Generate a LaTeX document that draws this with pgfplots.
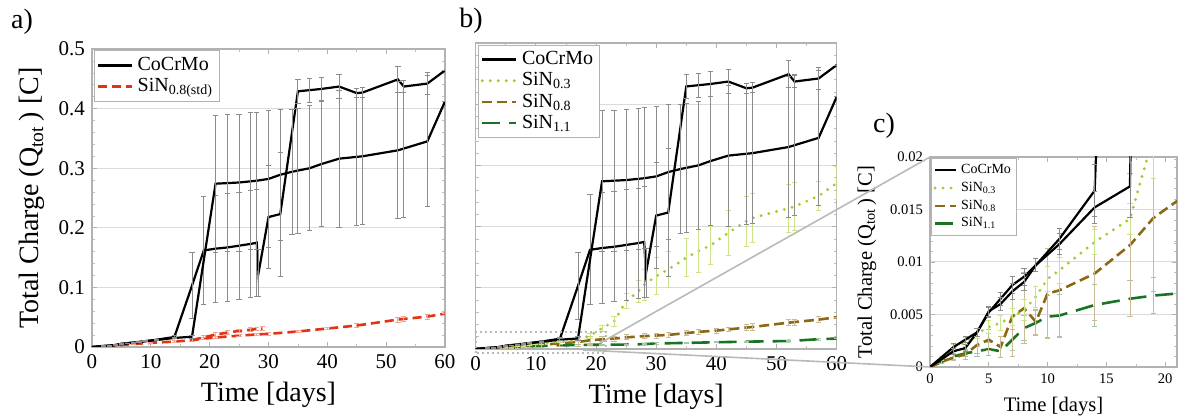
\documentclass[border=0pt]{standalone}
\usepackage{pgfplots}
\pgfplotsset{compat=1.18}
\usepackage{pgfplotstable}
\usepackage{fontspec}
\setmainfont{Liberation Serif}

\definecolor{sin03}{RGB}{160,205,40}
\definecolor{sin08}{RGB}{139,105,20}
\definecolor{sin11}{RGB}{25,115,35}
\definecolor{redc}{RGB}{230,50,20}

% CoCrMo, two runs
\pgfplotstableread{
x y e
0 0 0
2 0.0019 0.0003
3 0.0026 0.0003
4 0.0033 0.0004
5 0.0052 0.0005
6 0.0065 0.0006
7 0.0078 0.0008
8 0.0086 0.0008
9 0.0097 0.0006
11 0.0122 0.001
14 0.0168 0.0025
17 0.103 0.055
19 0.162 0.09
21 0.165 0.09
23 0.167 0.09
25 0.170 0.09
27 0.173 0.09
28 0.175 0.09
28.3 0.124 0.04
30 0.218 0.086
32 0.223 0.104
35 0.429 0.02
37 0.431 0.02
39 0.433 0.02
42 0.437 0.02
45 0.426 0.008
46 0.427 0.008
52 0.449 0.022
53 0.437 0.01
57 0.442 0.018
60 0.464 0
}\cocrA
\pgfplotstableread{
x y e
0 0 0
2 0.0015 0.0003
3 0.0018 0.0003
4 0.0033 0.0004
5 0.0053 0.0005
6 0.0060 0.0006
7 0.0072 0.0008
8 0.0081 0.0008
9 0.0097 0.0006
11 0.0117 0.001
14 0.0152 0.0015
17 0.0172 0.003
21 0.274 0.115
23 0.275 0.115
25 0.276 0.115
27 0.278 0.115
28 0.279 0.115
30 0.282 0.115
32 0.289 0.11
34 0.294 0.105
35 0.296 0.105
37 0.300 0.105
39 0.307 0.105
42 0.316 0.115
45 0.319 0.115
46 0.320 0.115
52 0.330 0.115
53 0.333 0.115
57 0.345 0.11
60 0.412 0
}\cocrB
\pgfplotstableread{
x y e
0 0 0
1 0.0008 0.0002
2 0.0018 0.0003
3 0.0024 0.0004
4 0.0032 0.0005
5 0.0038 0.0006
6 0.0042 0.0007
7 0.0048 0.0008
8 0.0054 0.001
9 0.0067 0.001
10 0.0084 0.0012
11 0.0092 0.0012
14 0.0119 0.0012
17 0.0141 0.0015
19 0.022 0.004
21 0.034 0.005
23 0.045 0.008
25 0.078 0.012
27 0.094 0.018
28 0.105 0.025
30 0.119 0.03
32 0.130 0.03
35 0.149 0.031
37 0.160 0.035
39 0.169 0.031
42 0.190 0.037
45 0.209 0.041
46 0.214 0.04
52 0.230 0.039
53 0.233 0.039
57 0.250 0.024
60 0.271 0.027
}\sinA
\pgfplotstableread{
x y e
0 0 0
1 0.0005 0.0002
2 0.0009 0.0003
3 0.0012 0.0005
4 0.0021 0.0008
5 0.0026 0.001
6 0.0019 0.001
7 0.0048 0.0038
8 0.0056 0.0034
9 0.0043 0.0012
10 0.0070 0.0043
11 0.0073 0.0045
14 0.0089 0.0045
17 0.0116 0.0068
19 0.0142 0.007
21 0.0158 0.004
23 0.017 0.004
25 0.019 0.004
28 0.021 0.004
30 0.022 0.004
32 0.023 0.004
35 0.026 0.004
37 0.028 0.004
40 0.030 0.004
42 0.032 0.004
45 0.035 0.005
46 0.036 0.005
52 0.043 0.005
53 0.044 0.005
57 0.048 0.005
60 0.052 0
}\sinB
\pgfplotstableread{
x y e
0 0 0
1 0.0005 0.0002
2 0.0010 0.0003
3 0.0013 0.0003
4 0.0015 0.0005
5 0.0017 0.0006
6 0.0015 0.0006
7 0.0026 0.001
8 0.0037 0.0012
9 0.0042 0.0012
10 0.0048 0.002
11 0.0049 0.002
14 0.0059 0.002
17 0.0065 0.0017
19 0.0068 0.0017
21 0.0070 0.001
25 0.0072 0.001
28 0.0080 0.001
30 0.0090 0.001
35 0.0100 0.001
40 0.0110 0.001
45 0.0120 0.001
52 0.0130 0.001
57 0.0160 0.0015
60 0.0170 0
}\sinC
% SiN0.8(std), panel a
\pgfplotstableread{
x y e
0 0 0
3 0.0015 0.0003
7 0.005 0.001
10 0.007 0.001
14 0.009 0.002
17 0.0115 0.002
19 0.014 0.002
21 0.016 0.002
25 0.019 0.002
28 0.021 0.002
30 0.022 0.002
35 0.026 0.002
40 0.031 0.002
45 0.036 0.003
52 0.046 0.004
53 0.047 0.004
57 0.051 0.004
60 0.056 0
}\redA
\pgfplotstableread{
x y e
17 0.012 0.002
19 0.016 0.003
21 0.021 0.003
23 0.024 0.003
25 0.027 0.003
27 0.029 0.003
28 0.030 0.003
29 0.031 0.003
}\redB

\pgfplotsset{
  panel/.style={scale only axis, axis line style={gray!60, line width=0.6pt},
    major tick style={gray!60, line width=0.4pt}, minor tick style={gray!50, line width=0.3pt},
    major tick length=2.5pt, minor tick length=1.5pt,
    ymajorgrids, grid style={gray!28, line width=0.5pt},
    tick label style={font=\fontsize{10.5}{12}\selectfont},
    label style={font=\fontsize{14}{16}\selectfont},
    xticklabel={\pgfmathprintnumber[assume math mode=true]{\tick}},
    yticklabel={\pgfmathprintnumber[assume math mode=true, fixed, precision=3]{\tick}},
    scaled y ticks=false, clip mode=individual, legend cell align=left,
    legend style={draw=gray!60, at={(0.006,0.995)}, anchor=north west,
      inner sep=1.2pt, row sep=-1.5pt, font=\fontsize{10}{12}\selectfont}},
  cocr/.style={black, line width=1.1pt, solid},
  s03/.style={sin03, line width=1.6pt, line cap=round, dash pattern=on 0pt off 4pt},
  s08/.style={sin08, line width=1.3pt, dash pattern=on 5pt off 2.5pt},
  s11/.style={sin11, line width=1.3pt, dash pattern=on 9pt off 4.5pt},
  sred/.style={redc, line width=1.3pt, dash pattern=on 4.5pt off 2.5pt},
  eb/.style={/pgfplots/error bars/y dir=both, /pgfplots/error bars/y explicit,
    /pgfplots/error bars/error bar style={#1, line width=0.45pt, solid},
    /pgfplots/error bars/error mark options={#1, solid, rotate=90, mark size=1.3pt, line width=0.45pt}},
}

\begin{document}
\begin{tikzpicture}
\path[use as bounding box] (0,0) rectangle (590pt,208pt);

% a)
\begin{axis}[panel, at={(46pt,34.5pt)}, anchor=south west, width=176.5pt, height=149pt,
  xmin=0, xmax=60, ymin=0, ymax=0.5,
  xtick={0,10,20,30,40,50,60}, ytick={0,0.1,0.2,0.3,0.4,0.5},
  minor x tick num=1, minor y tick num=4,
  xlabel={Time [days]}, ylabel={Total Charge (Q\textsubscript{tot}\,) [C]}]
\addlegendimage{cocr}\addlegendentry{CoCrMo}
\addlegendimage{sred}\addlegendentry{SiN\textsubscript{0.8(std)}}
\addplot[sred, forget plot, eb=redc!45] table[x=x, y=y, y error=e] {\redA};
\addplot[sred, forget plot, eb=redc!45] table[x=x, y=y, y error=e] {\redB};
\addplot[cocr, forget plot, eb=black!45] table[x=x, y=y, y error=e] {\cocrA};
\addplot[cocr, forget plot, eb=black!45] table[x=x, y=y, y error=e] {\cocrB};
\end{axis}

% b)
\begin{axis}[panel, at={(237.85pt,33.5pt)}, anchor=south west, width=180.5pt, height=153pt,
  xmin=0, xmax=60, ymin=0, ymax=0.5,
  xtick={0,10,20,30,40,50,60}, ytick={0,0.1,0.2,0.3,0.4,0.5}, yticklabels={},
  minor x tick num=1, minor y tick num=4,
  xlabel={Time [days]}]
\addlegendimage{cocr}\addlegendentry{CoCrMo}
\addlegendimage{s03}\addlegendentry{SiN\textsubscript{0.3}}
\addlegendimage{s08}\addlegendentry{SiN\textsubscript{0.8}}
\addlegendimage{s11}\addlegendentry{SiN\textsubscript{1.1}}
\addplot[s11, forget plot, eb=sin11!40] table[x=x, y=y, y error=e] {\sinC};
\addplot[s08, forget plot, eb=sin08!45] table[x=x, y=y, y error=e] {\sinB};
\addplot[s03, forget plot, eb=sin03!55] table[x=x, y=y, y error=e] {\sinA};
\addplot[cocr, forget plot, eb=black!45] table[x=x, y=y, y error=e] {\cocrA};
\addplot[cocr, forget plot, eb=black!45] table[x=x, y=y, y error=e] {\cocrB};
\draw[gray!55, line width=1pt, dash pattern=on 1pt off 1.5pt] (axis cs:0,-0.0065) rectangle (axis cs:21.7,0.028);
\coordinate (zu) at (axis cs:20.7,0.0098);
\coordinate (zl) at (axis cs:17.8,-0.0016);
\end{axis}

% c)
\begin{axis}[panel, at={(465pt,24.5pt)}, anchor=south west, width=123.5pt, height=105pt,
  xmin=0, xmax=21, ymin=0, ymax=0.02,
  xtick={0,5,10,15,20}, ytick={0,0.005,0.01,0.015,0.02},
  minor x tick num=1, minor y tick num=4,
  tick label style={font=\fontsize{7.3}{9}\selectfont},
  label style={font=\fontsize{10.3}{12}\selectfont},
  xlabel={Time [days]}, ylabel={Total Charge (Q\textsubscript{tot}\,) [C]},
  legend style={font=\fontsize{7}{8.5}\selectfont, row sep=-1.2pt, inner sep=0.8pt,
    /tikz/every even column/.append style={column sep=0pt}},
  legend image code/.code={\draw[mark repeat=2,mark phase=2] plot coordinates {(0cm,0cm) (0.18cm,0cm) (0.36cm,0cm)};}]
\addlegendimage{cocr}\addlegendentry{CoCrMo}
\addlegendimage{s03}\addlegendentry{SiN\textsubscript{0.3}}
\addlegendimage{s08}\addlegendentry{SiN\textsubscript{0.8}}
\addlegendimage{s11}\addlegendentry{SiN\textsubscript{1.1}}
\addplot[s11, forget plot, eb=sin11!40] table[x=x, y=y, y error=e] {\sinC};
\addplot[s08, forget plot, eb=sin08!45] table[x=x, y=y, y error=e] {\sinB};
\addplot[s03, forget plot, eb=sin03!55] table[x=x, y=y, y error=e] {\sinA};
\addplot[cocr, forget plot, eb=black!45] table[x=x, y=y, y error=e] {\cocrA};
\addplot[cocr, forget plot, eb=black!45] table[x=x, y=y, y error=e] {\cocrB};
\coordinate (ctl) at (rel axis cs:0,1);
\coordinate (cbl) at (rel axis cs:0,0);
\end{axis}

\draw[gray!55, line width=0.8pt] (zu) -- (ctl);
\draw[gray!55, line width=0.8pt] (zl) -- (cbl);

\node[font=\fontsize{14}{16}\selectfont] at (11pt,197pt) {a)};
\node[font=\fontsize{14}{16}\selectfont] at (235.5pt,197.5pt) {b)};
\node[font=\fontsize{14}{16}\selectfont] at (442pt,145pt) {c)};
\end{tikzpicture}
\end{document}
